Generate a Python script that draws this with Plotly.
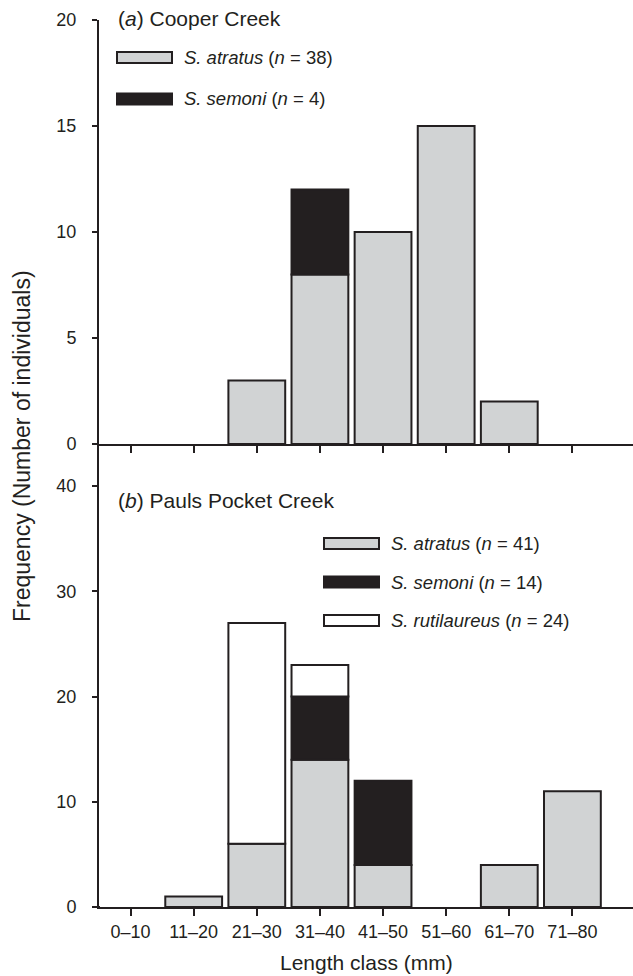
import plotly.graph_objects as go

# ---------------- data ----------------
length_classes = ["0–10", "11–20", "21–30", "31–40", "41–50", "51–60", "61–70", "71–80"]

# (a) Cooper Creek
cooper_atratus = [0, 0, 3, 8, 10, 15, 2, 0]
cooper_semoni = [0, 0, 0, 4, 0, 0, 0, 0]

# (b) Pauls Pocket Creek
pauls_atratus = [0, 1, 6, 14, 4, 0, 4, 11]
pauls_semoni = [0, 0, 0, 6, 8, 0, 0, 0]
pauls_rutilaureus = [0, 0, 21, 3, 0, 0, 0, 0]

cooper_legend = ["<i>S. atratus</i> (<i>n</i> = 38)", "<i>S. semoni</i> (<i>n</i> = 4)"]
pauls_legend = ["<i>S. atratus</i> (<i>n</i> = 41)", "<i>S. semoni</i> (<i>n</i> = 14)",
                "<i>S. rutilaureus</i> (<i>n</i> = 24)"]

# ---------------- style ----------------
W, H = 633, 976
ML, MR, MT, MB = 99, 0, 20, 69
PW, PH = W - ML - MR, H - MT - MB
GRAY = "#d1d3d4"
BLACK = "#231f20"
WHITE = "#ffffff"
FONT = "Liberation Sans, Arial, sans-serif"
split_px = 444
split = (H - MB - split_px) / PH


def px_x(x):
    return (x - ML) / PW


def px_y(y):
    return (H - MB - y) / PH


def nz(v):
    return [None if a == 0 else a for a in v]


fig = go.Figure()

bar_kw = dict(width=0.9, marker_line_color=BLACK, marker_line_width=2, showlegend=False,
              hoverinfo="skip")

fig.add_trace(go.Bar(x=length_classes, y=nz(cooper_atratus), marker_color=GRAY,
                     xaxis="x2", yaxis="y2", **bar_kw))
fig.add_trace(go.Bar(x=length_classes, y=nz(cooper_semoni), marker_color=BLACK,
                     base=cooper_atratus, xaxis="x2", yaxis="y2", **bar_kw))

base_r = [a + s for a, s in zip(pauls_atratus, pauls_semoni)]
fig.add_trace(go.Bar(x=length_classes, y=nz(pauls_atratus), marker_color=GRAY,
                     xaxis="x", yaxis="y", **bar_kw))
fig.add_trace(go.Bar(x=length_classes, y=nz(pauls_semoni), marker_color=BLACK,
                     base=pauls_atratus, xaxis="x", yaxis="y", **bar_kw))
fig.add_trace(go.Bar(x=length_classes, y=nz(pauls_rutilaureus), marker_color=WHITE,
                     base=base_r, xaxis="x", yaxis="y", **bar_kw))

axis_common = dict(showgrid=False, zeroline=False, showline=True, linecolor=BLACK,
                   linewidth=2, ticks="outside", tickcolor=BLACK, tickwidth=2,
                   tickfont=dict(family=FONT, size=18, color=BLACK))

fig.update_layout(
    width=W, height=H,
    margin=dict(l=ML, r=MR, t=MT, b=MB, pad=0),
    paper_bgcolor="white", plot_bgcolor="white",
    barmode="overlay",
    font=dict(family=FONT, color=BLACK),
    xaxis=dict(domain=[0, 1], anchor="y", range=[-0.5, 7.96], ticklen=7,
               categoryorder="array", categoryarray=length_classes, **axis_common),
    xaxis2=dict(domain=[0, 1], anchor="y2", range=[-0.5, 7.96], ticklen=7,
                showticklabels=False, matches="x", **axis_common),
    yaxis=dict(domain=[0, split], anchor="x", range=[0, 44], tickvals=[0, 10, 20, 30, 40],
               ticklen=5, ticklabelstandoff=12, **axis_common),
    yaxis2=dict(domain=[split, 1], anchor="x2", range=[0, 20], tickvals=[0, 5, 10, 15, 20],
                ticklen=5, ticklabelstandoff=12, **axis_common),
)

annotations = []
shapes = []

# small extension of the bottom axis line to the left of the y axis
shapes.append(dict(type="line", xref="paper", yref="paper", x0=px_x(93), x1=px_x(100),
                   y0=0, y1=0, line=dict(color=BLACK, width=2)))

# Panel labels
annotations.append(dict(text="(<i>a</i>) Cooper Creek", xref="paper", yref="paper",
                        x=px_x(116), y=px_y(18), xanchor="left", yanchor="middle",
                        showarrow=False, font=dict(family=FONT, size=21, color=BLACK)))
annotations.append(dict(text="(<i>b</i>) Pauls Pocket Creek", xref="paper", yref="paper",
                        x=px_x(116), y=px_y(500), xanchor="left", yanchor="middle",
                        showarrow=False, font=dict(family=FONT, size=21, color=BLACK)))

# Axis titles
annotations.append(dict(text="Length class (mm)", xref="paper", yref="paper",
                        x=0.5, y=px_y(962), xanchor="center", yanchor="middle",
                        showarrow=False, font=dict(family=FONT, size=21, color=BLACK)))
annotations.append(dict(text="Frequency (Number of individuals)", xref="paper", yref="paper",
                        x=px_x(22), y=px_y(446), xanchor="center", yanchor="middle",
                        textangle=-90, showarrow=False,
                        font=dict(family=FONT, size=23, color=BLACK)))


def legend_entry(x0, yc, label, fill):
    shapes.append(dict(type="rect", xref="paper", yref="paper",
                       x0=px_x(x0), x1=px_x(x0 + 55), y0=px_y(yc - 5.5), y1=px_y(yc + 5.5),
                       fillcolor=fill, line=dict(color=BLACK, width=2)))
    annotations.append(dict(text=label, xref="paper", yref="paper",
                            x=px_x(x0 + 65), y=px_y(yc), xanchor="left", yanchor="middle",
                            showarrow=False, font=dict(family=FONT, size=18.5, color=BLACK)))


legend_entry(117, 57.5, cooper_legend[0], GRAY)
legend_entry(117, 99, cooper_legend[1], BLACK)
legend_entry(324, 543.5, pauls_legend[0], GRAY)
legend_entry(324, 582, pauls_legend[1], BLACK)
legend_entry(324, 620.5, pauls_legend[2], WHITE)

fig.update_layout(annotations=annotations, shapes=shapes)

fig.write_html("out.html")
